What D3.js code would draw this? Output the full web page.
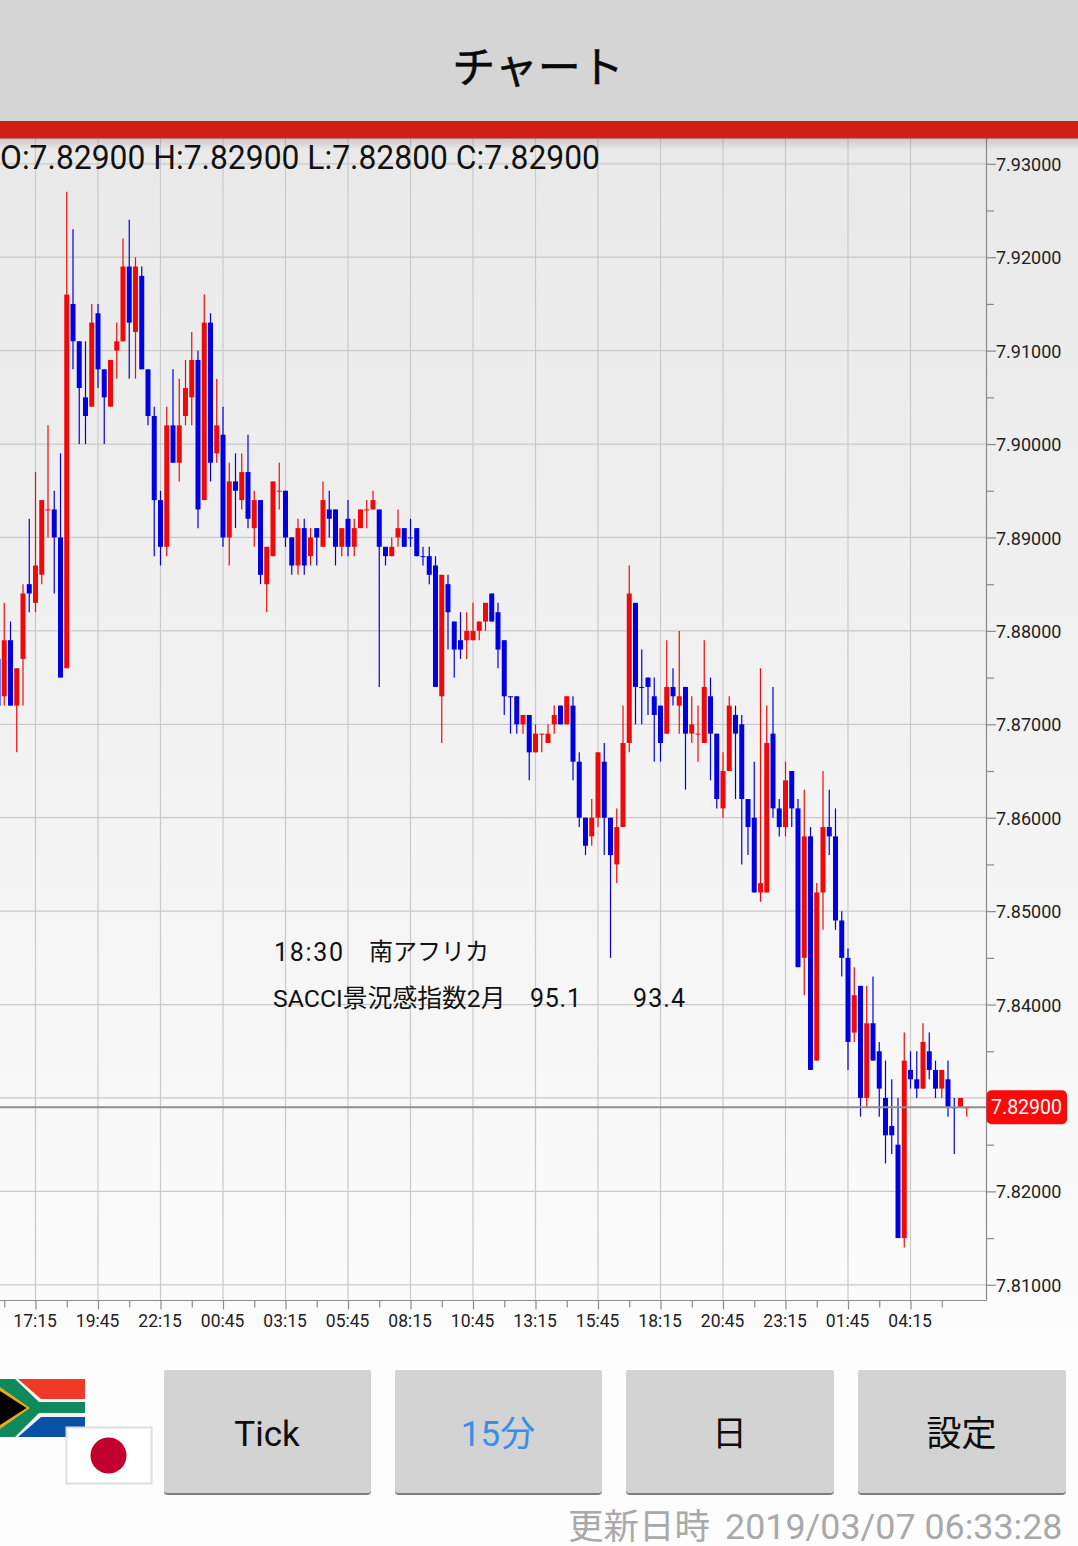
<!DOCTYPE html>
<html><head><meta charset="utf-8">
<script src="https://cdn.jsdelivr.net/npm/d3@7/dist/d3.min.js"></script>
<style>
html,body{margin:0;padding:0;background:#fdfdfd;overflow:hidden}
svg{display:block}
text{font-family:Roboto,"Noto Sans CJK JP",sans-serif}
.jp{font-family:"Noto Sans CJK JP",sans-serif}
</style></head><body><svg id="c" width="1078" height="1546"></svg>
<script>
const opens=[7.877,7.873,7.879,7.872,7.877,7.885,7.883,7.886,7.893,7.893,
7.890,7.876,7.915,7.911,7.905,7.904,7.914,7.908,7.904,7.910,
7.911,7.919,7.912,7.918,7.908,7.903,7.894,7.889,7.902,7.898,
7.903,7.905,7.909,7.894,7.913,7.899,7.901,7.890,7.896,7.894,
7.897,7.891,7.894,7.885,7.888,7.895,7.895,7.890,7.887,7.891,
7.888,7.891,7.889,7.893,7.893,7.889,7.892,7.889,7.891,7.893,
7.893,7.893,7.889,7.888,7.890,7.891,7.890,7.891,7.888,7.888,
7.887,7.873,7.885,7.881,7.879,7.879,7.879,7.880,7.881,7.884,
7.882,7.879,7.873,7.873,7.870,7.871,7.867,7.869,7.868,7.870,
7.872,7.870,7.872,7.866,7.860,7.858,7.860,7.866,7.860,7.855,
7.859,7.868,7.883,7.874,7.875,7.873,7.872,7.869,7.874,7.872,
7.874,7.869,7.869,7.868,7.873,7.869,7.861,7.865,7.871,7.870,
7.862,7.860,7.852,7.852,7.869,7.861,7.859,7.865,7.861,7.845,
7.858,7.834,7.852,7.859,7.858,7.849,7.845,7.837,7.842,7.830,
7.838,7.835,7.830,7.827,7.825,7.815,7.833,7.832,7.831,7.835,
7.833,7.831,7.832,7.829,7.829,7.829];
const highs=[7.877,7.883,7.881,7.876,7.885,7.892,7.897,7.894,7.902,7.895,
7.899,7.927,7.923,7.911,7.911,7.915,7.915,7.908,7.909,7.913,
7.922,7.924,7.920,7.919,7.908,7.904,7.895,7.904,7.908,7.907,
7.909,7.912,7.910,7.916,7.914,7.907,7.904,7.898,7.899,7.899,
7.901,7.895,7.894,7.889,7.896,7.898,7.895,7.890,7.892,7.892,
7.891,7.891,7.896,7.895,7.893,7.891,7.894,7.892,7.893,7.894,
7.895,7.893,7.889,7.890,7.893,7.891,7.892,7.891,7.889,7.889,
7.888,7.886,7.886,7.881,7.882,7.882,7.883,7.881,7.883,7.884,
7.883,7.879,7.873,7.873,7.871,7.871,7.870,7.869,7.870,7.872,
7.872,7.873,7.873,7.867,7.860,7.862,7.867,7.868,7.860,7.861,
7.872,7.887,7.883,7.878,7.875,7.875,7.872,7.879,7.876,7.880,
7.874,7.873,7.872,7.879,7.875,7.869,7.867,7.873,7.872,7.871,
7.862,7.866,7.876,7.872,7.874,7.862,7.866,7.865,7.862,7.863,
7.859,7.853,7.865,7.863,7.861,7.850,7.846,7.844,7.842,7.842,
7.843,7.836,7.834,7.832,7.830,7.837,7.835,7.835,7.838,7.837,
7.834,7.833,7.834,7.830,7.830,7.829];
const lows=[7.872,7.872,7.872,7.867,7.872,7.882,7.882,7.885,7.890,7.884,
7.875,7.876,7.908,7.900,7.900,7.904,7.906,7.900,7.904,7.907,
7.911,7.907,7.907,7.908,7.902,7.888,7.887,7.888,7.898,7.896,
7.902,7.902,7.891,7.894,7.896,7.898,7.889,7.887,7.891,7.893,
7.891,7.889,7.885,7.882,7.888,7.893,7.889,7.886,7.886,7.886,
7.887,7.887,7.889,7.890,7.887,7.888,7.888,7.888,7.891,7.891,
7.893,7.874,7.887,7.888,7.889,7.889,7.889,7.888,7.887,7.885,
7.874,7.868,7.878,7.875,7.877,7.877,7.879,7.879,7.880,7.881,
7.876,7.871,7.869,7.869,7.869,7.864,7.867,7.867,7.868,7.869,
7.870,7.870,7.864,7.859,7.856,7.857,7.859,7.856,7.845,7.853,
7.859,7.867,7.870,7.870,7.871,7.866,7.866,7.869,7.872,7.869,
7.863,7.868,7.866,7.868,7.864,7.861,7.860,7.865,7.862,7.855,
7.856,7.852,7.851,7.852,7.860,7.858,7.858,7.859,7.844,7.841,
7.833,7.834,7.848,7.856,7.848,7.843,7.833,7.836,7.828,7.829,
7.834,7.828,7.823,7.824,7.815,7.814,7.831,7.830,7.831,7.832,
7.830,7.830,7.828,7.824,7.829,7.828];
const closes=[7.872,7.879,7.872,7.876,7.884,7.884,7.887,7.894,7.893,7.890,
7.875,7.916,7.911,7.906,7.903,7.913,7.908,7.905,7.909,7.911,
7.919,7.913,7.919,7.908,7.903,7.894,7.889,7.902,7.898,7.902,
7.906,7.909,7.893,7.913,7.898,7.902,7.890,7.896,7.895,7.897,
7.892,7.894,7.886,7.889,7.896,7.895,7.890,7.887,7.891,7.887,
7.890,7.890,7.894,7.892,7.889,7.891,7.889,7.891,7.893,7.893,
7.894,7.889,7.888,7.889,7.891,7.889,7.890,7.888,7.888,7.886,
7.874,7.886,7.882,7.878,7.878,7.880,7.880,7.881,7.883,7.881,
7.878,7.873,7.873,7.870,7.871,7.867,7.869,7.869,7.869,7.871,
7.870,7.873,7.866,7.860,7.857,7.860,7.867,7.860,7.856,7.859,
7.868,7.884,7.874,7.874,7.874,7.871,7.868,7.874,7.873,7.873,
7.869,7.870,7.869,7.874,7.869,7.862,7.865,7.872,7.869,7.862,
7.859,7.852,7.853,7.868,7.861,7.859,7.864,7.861,7.844,7.858,
7.833,7.852,7.859,7.858,7.849,7.845,7.836,7.841,7.830,7.838,
7.834,7.831,7.826,7.826,7.815,7.834,7.832,7.831,7.836,7.833,
7.831,7.833,7.829,7.829,7.830,7.829];
// candles whose open equals close but are drawn in the falling colour
const flatFalling=[66,68,82,103,153];
const timeLabels=["17:15","19:45","22:15","00:45","03:15","05:45","08:15","10:45","13:15","15:45","18:15","20:45","23:15","01:45","04:15"];
const priceLevels=[7.81,7.82,7.83,7.84,7.85,7.86,7.87,7.88,7.89,7.90,7.91,7.92,7.93];
const priceLabels=[7.81,7.82,7.84,7.85,7.86,7.87,7.88,7.89,7.90,7.91,7.92,7.93];
const lastPrice=7.829;
const ohlcLine="O:7.82900 H:7.82900 L:7.82800 C:7.82900";

const RED="#ee0a0a",BLUE="#0000e0",GRID="#c9c9c9",AXIS="#8a8a8a";
const svg=d3.select("#c");
const defs=svg.append("defs");
const bg=defs.append("linearGradient").attr("id","bg").attr("x1",0).attr("x2",0).attr("y1",0).attr("y2",1);
bg.append("stop").attr("offset",0).attr("stop-color","#e9e9e9");
bg.append("stop").attr("offset",0.5).attr("stop-color","#f2f2f2");
bg.append("stop").attr("offset",1).attr("stop-color","#fcfcfc");
const sh=defs.append("linearGradient").attr("id","sh").attr("x1",0).attr("x2",0).attr("y1",0).attr("y2",1);
sh.append("stop").attr("offset",0).attr("stop-color","#000").attr("stop-opacity",.14);
sh.append("stop").attr("offset",1).attr("stop-color","#000").attr("stop-opacity",0);
defs.append("clipPath").attr("id","plot").append("rect").attr("x",0).attr("y",138).attr("width",986).attr("height",1162);

svg.append("rect").attr("width",1078).attr("height",1546).attr("fill","#fdfdfd");
svg.append("rect").attr("y",138).attr("width",1078).attr("height",1190).attr("fill","url(#bg)");

const originIdx=6, step=6.25, x0=35.5;
const x=d3.scaleLinear().domain([0,158]).range([x0-originIdx*step,x0+(158-originIdx)*step]);
const y=d3.scaleLinear().domain([7.81,7.93]).range([1284.8,163.8]);

const majorIdx=timeLabels.map((_,i)=>originIdx+i*10);
const minorIdx=d3.range(1,152,10);
const halfPrices=priceLevels.slice(0,-1).map(p=>p+0.005);

// grid
const g=svg.append("g");
g.selectAll("line.h").data(priceLevels).join("line").attr("class","h")
 .attr("x1",0).attr("x2",986).attr("y1",d=>y(d)).attr("y2",d=>y(d)).attr("stroke",GRID).attr("stroke-width",1.2);
g.selectAll("line.v").data(majorIdx).join("line").attr("class","v")
 .attr("x1",d=>x(d)).attr("x2",d=>x(d)).attr("y1",138).attr("y2",1300).attr("stroke",GRID).attr("stroke-width",1.2);

// candles
const candles=opens.map((o,i)=>({i,o,h:highs[i],l:lows[i],c:closes[i]}));
const colour=d=>(d.c<d.o||flatFalling.includes(d.i))?BLUE:RED;
const cg=svg.append("g").attr("clip-path","url(#plot)");
cg.selectAll("line.w").data(candles).join("line").attr("class","w")
 .attr("x1",d=>x(d.i)).attr("x2",d=>x(d.i)).attr("y1",d=>y(d.h)).attr("y2",d=>y(d.l))
 .attr("stroke",colour).attr("stroke-width",1.2);
cg.selectAll("rect.b").data(candles).join("rect").attr("class","b")
 .attr("x",d=>x(d.i)-2.5).attr("width",5)
 .attr("y",d=>y(Math.max(d.o,d.c))).attr("height",d=>Math.max(1,y(Math.min(d.o,d.c))-y(Math.max(d.o,d.c))))
 .attr("fill",colour);

// last price line
svg.append("line").attr("x1",0).attr("x2",986).attr("y1",y(lastPrice)).attr("y2",y(lastPrice)).attr("stroke","#8f8f8f").attr("stroke-width",2);

// axes
const styleAxis=s=>{s.selectAll("line,path").attr("stroke",AXIS).attr("stroke-width",1.2);s.selectAll("text").attr("fill","#222").attr("font-family","Roboto");};
const yMinor=d3.axisRight(y).tickValues(halfPrices).tickSize(7.5).tickSizeOuter(0).tickFormat("");
const yMajor=d3.axisRight(y).tickValues(priceLabels).tickSize(9.5).tickSizeOuter(0).tickPadding(0).tickFormat(d3.format(".5f"));
svg.append("g").attr("transform","translate(986.5,0)").call(yMinor).call(styleAxis).select(".domain").remove();
const ya=svg.append("g").attr("transform","translate(986.5,0)").call(yMajor).call(styleAxis);
ya.select(".domain").remove();
ya.selectAll("text").attr("font-size",18).attr("y",0.8);
svg.append("line").attr("x1",986.5).attr("x2",986.5).attr("y1",138).attr("y2",1300.5).attr("stroke",AXIS).attr("stroke-width",1.2);
const xMinor=d3.axisBottom(x).tickValues(minorIdx).tickSize(7).tickSizeOuter(0).tickFormat("");
const xMajor=d3.axisBottom(x).tickValues(majorIdx).tickSize(9).tickSizeOuter(0).tickPadding(5).tickFormat((d,i)=>timeLabels[i]);
svg.append("g").attr("transform","translate(0,1300.5)").call(xMinor).call(styleAxis).select(".domain").remove();
const xa=svg.append("g").attr("transform","translate(0,1300.5)").call(xMajor).call(styleAxis);
xa.select(".domain").remove();
xa.selectAll("text").attr("font-size",17.5).attr("dx",-0.9);
svg.append("line").attr("x1",0).attr("x2",986.5).attr("y1",1300.5).attr("y2",1300.5).attr("stroke",AXIS).attr("stroke-width",1.2);

// last price tag
svg.append("rect").attr("x",986.5).attr("y",y(lastPrice)-17).attr("width",80.5).attr("height",34).attr("rx",5).attr("fill","#fb0a0a");
svg.append("text").attr("x",1026.5).attr("y",y(lastPrice)+7).attr("text-anchor","middle").attr("font-size",19.5).attr("fill","#fff").text(d3.format(".5f")(lastPrice));

// header
svg.append("rect").attr("width",1078).attr("height",122).attr("fill","#d5d5d5");
svg.append("rect").attr("y",121).attr("width",1078).attr("height",17.5).attr("fill","#d02015");
svg.append("rect").attr("y",138).attr("width",1078).attr("height",12).attr("fill","url(#sh)");
svg.append("text").attr("class","jp").attr("x",538).attr("y",83).attr("text-anchor","middle").attr("font-size",43).attr("stroke","#0a0a0a").attr("stroke-width",0.5).attr("fill","#0a0a0a").text("チャート");
svg.append("text").attr("x",0).attr("y",168.7).attr("font-size",33).attr("textLength",600).attr("lengthAdjust","spacingAndGlyphs").attr("fill","#111").text(ohlcLine);

// event note
const note=svg.append("g").attr("fill","#111").attr("font-size",24.5);
note.append("text").attr("x",274).attr("y",961).attr("font-size",25).attr("textLength",69).text("18:30");
note.append("text").attr("class","jp").attr("x",369).attr("y",960).attr("font-size",24).text("南アフリカ");
note.append("text").attr("x",273).attr("y",1007).attr("font-size",24.8).text("SACCI景況感指数2月");
note.append("text").attr("x",530).attr("y",1007).attr("font-size",25).attr("textLength",51).text("95.1");
note.append("text").attr("x",633).attr("y",1007).attr("font-size",25).attr("textLength",52).text("93.4");

// flags
defs.append("clipPath").attr("id","za").append("rect").attr("x",0).attr("y",1379).attr("width",85).attr("height",58);
const za=svg.append("g").attr("clip-path","url(#za)");
za.append("rect").attr("x",0).attr("y",1379).attr("width",85).attr("height",29).attr("fill","#ee3a26");
za.append("rect").attr("x",0).attr("y",1408).attr("width",85).attr("height",29).attr("fill","#0a50a8");
za.append("polygon").attr("points","0,1379 18,1379 41,1399 85,1399 85,1417 41,1417 18,1437 0,1437").attr("fill","#f4f4f4");
za.append("polygon").attr("points","0,1379 15,1379 39,1402 85,1402 85,1413 39,1413 15,1437 0,1437").attr("fill","#0e8a5c");
za.append("polygon").attr("points","0,1387 30,1408 0,1429").attr("fill","#e8a820");
za.append("polygon").attr("points","0,1391 26.5,1408 0,1425").attr("fill","#000");
svg.append("rect").attr("x",66.5).attr("y",1427.5).attr("width",85).attr("height",56).attr("fill","#fff").attr("stroke","#dedede").attr("stroke-width",2);
svg.append("circle").attr("cx",108.5).attr("cy",1455.5).attr("r",18).attr("fill","#c2002f");

// buttons
const btnLabels=["Tick","15分","日","設定"];
const btnLefts=[164,395,626,858];
const btnWidths=[207,207,208,208];
btnLabels.forEach((t,i)=>{
  svg.append("rect").attr("x",btnLefts[i]).attr("y",1370).attr("width",btnWidths[i]).attr("height",125).attr("rx",4).attr("fill","#7c7c7c");
  svg.append("rect").attr("x",btnLefts[i]).attr("y",1370).attr("width",btnWidths[i]).attr("height",123).attr("rx",3).attr("fill","#d3d3d3");
  svg.append("text").attr("x",btnLefts[i]+btnWidths[i]/2-0.5).attr("y",1446).attr("text-anchor","middle").attr("font-size",35)
    .attr("fill",t==="15分"?"#3a8ee6":"#0d0d0d").text(t);
});

// footer
svg.append("text").attr("class","jp").attr("x",568).attr("y",1539).attr("font-size",35.5).attr("fill","#a9a9a9").text("更新日時");
svg.append("text").attr("x",1062.5).attr("y",1539.3).attr("text-anchor","end").attr("font-size",35.8).attr("fill","#a9a9a9").text("2019/03/07 06:33:28");
</script></body></html>
